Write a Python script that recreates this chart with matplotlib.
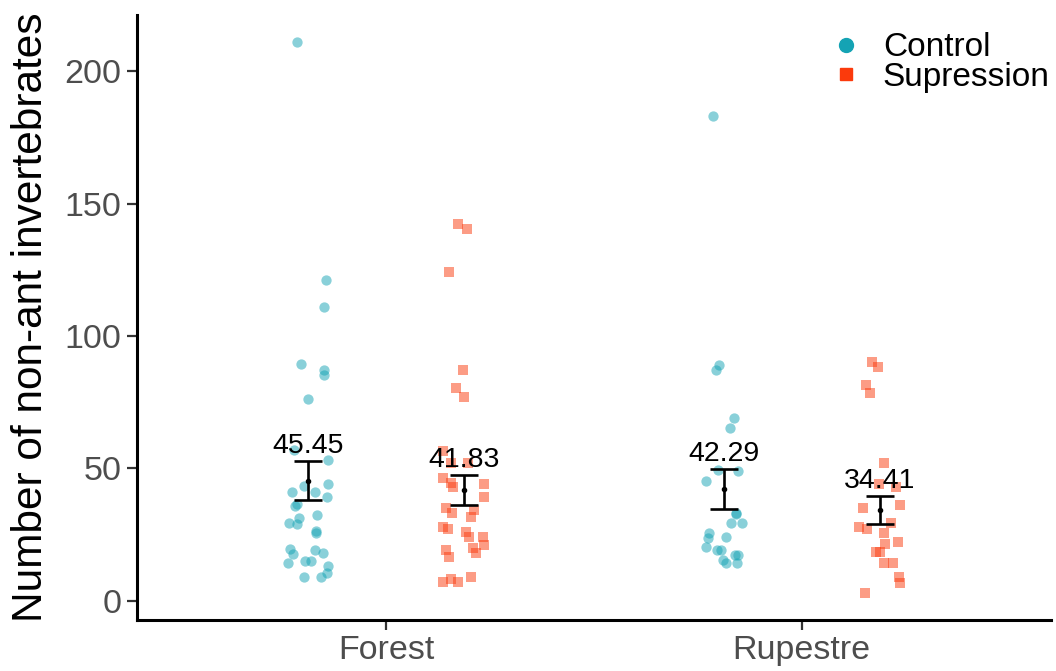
import matplotlib
matplotlib.use("Agg")
import matplotlib.pyplot as plt
from matplotlib.lines import Line2D

plt.rcParams['font.family'] = ['Liberation Sans', 'DejaVu Sans']

# habitats on the x axis, treatments dodged inside each
habitats = ["Forest", "Rupestre"]
treatments = ["Control", "Supression"]

# counts, with the jitter offset of each point (x units)
forest_control = [211.2, 121, 111, 89.3, 87.2, 85.3, 76.2, 57, 53.2, 44.2, 43.5, 41.2, 41.2,
                  39.4, 36.5, 36, 32.4, 31.3, 29.4, 29, 26.4, 25.6, 19.6, 17.7, 19.2, 18.2,
                  14.2, 15.2, 15.2, 13.2, 10.4, 9.2, 9.2]
forest_control_jit = [-0.028, 0.043, 0.037, -0.018, 0.037, 0.037, 0.0, -0.034, 0.047, 0.047,
                      -0.01, 0.016, -0.039, 0.044, -0.028, -0.031, 0.022, -0.023, -0.046,
                      -0.027, 0.019, 0.019, -0.043, -0.036, 0.016, 0.036, -0.05, -0.007,
                      0.006, 0.047, 0.044, 0.031, -0.01]

forest_supp = [142.3, 140.3, 124, 87.2, 80.3, 77.1, 56.6, 52, 52, 46.3, 44.4, 44.2, 43.1, 39.4,
               35, 33.1, 34.3, 31.8, 28, 27.3, 26.2, 24.3, 24.3, 21.1, 19.9, 18, 19.2, 16.7,
               7.3, 8.2, 7.3, 9.2]
forest_supp_jit = [-0.016, 0.006, -0.036, -0.002, -0.019, 0.0, -0.051, -0.032, 0.01, -0.052,
                   -0.032, 0.047, -0.028, 0.048, -0.043, -0.03, 0.024, 0.016, -0.052, -0.04,
                   0.004, 0.012, 0.046, 0.048, 0.022, 0.028, -0.043, -0.036, -0.051, -0.032,
                   -0.014, 0.016]

rup_control = [183.1, 89.1, 87.2, 69.2, 65.2, 49.4, 49.2, 45.3, 33.3, 33, 29.3, 29.3, 25.5,
               23.7, 24.3, 20.2, 19.2, 19.2, 17.4, 17.4, 15.5, 14.5, 14.5]
rup_control_jit = [-0.027, -0.011, -0.018, 0.024, 0.016, -0.014, 0.034, -0.043, 0.029, 0.029,
                   0.018, 0.043, -0.035, -0.038, 0.006, -0.042, -0.016, -0.006, 0.027, 0.034,
                   -0.002, 0.006, 0.032]

rup_supp = [90.3, 88.4, 81.5, 78.4, 52.2, 44.2, 43.1, 36.2, 35, 28, 27, 29.3, 25.5, 21.5, 22.4,
            18.3, 18.6, 14.5, 14.5, 9.2, 6.9, 3.1]
rup_supp_jit = [-0.018, -0.004, -0.034, -0.024, 0.01, -0.002, 0.039, 0.048, -0.04, -0.05,
                -0.031, 0.028, 0.01, 0.014, 0.044, -0.008, 0.0, 0.01, 0.032, 0.046, 0.05,
                -0.036]

# group means (as labelled) and standard errors
means = [45.45, 41.83, 42.29, 34.41]
ses = [7.5, 5.7, 7.7, 5.3]

colors = {"Control": "#14A3B4", "Supression": "#FB3A0C"}
markers = {"Control": "o", "Supression": "s"}
dodge = 0.1875

groups = [
    (0, "Control", forest_control, forest_control_jit),
    (0, "Supression", forest_supp, forest_supp_jit),
    (1, "Control", rup_control, rup_control_jit),
    (1, "Supression", rup_supp, rup_supp_jit),
]

fig = plt.figure(figsize=(10.56, 6.71), dpi=100)
ax = fig.add_axes([0.1297, 0.076, 0.8656, 0.9016])

for i, (h, t, vals, jit) in enumerate(groups):
    xc = h + 1 + (-dodge if t == "Control" else dodge)
    xs = [xc + j for j in jit]
    ax.scatter(xs, vals, s=55 if t == "Control" else 50, marker=markers[t],
               color=colors[t], alpha=0.5, linewidths=0, zorder=2)
    ax.errorbar([xc], [means[i]], yerr=[ses[i]], fmt="o", color="black", ms=3,
                elinewidth=1.9, capsize=10, capthick=1.9, zorder=3)
    ax.text(xc, means[i] + ses[i] + 0.6, "%.2f" % means[i], ha="center", va="bottom",
            fontsize=20.5, color="black", zorder=4)

ax.set_xlim(0.4, 2.6)
ax.set_ylim(-7.2, 221.2)
ax.set_xticks([1, 2])
ax.set_xticklabels(habitats)
ax.set_yticks([0, 50, 100, 150, 200])
ax.set_ylabel("Number of non-ant invertebrates", fontsize=30.5, labelpad=10)

for side in ["top", "right"]:
    ax.spines[side].set_visible(False)
for side in ["left", "bottom"]:
    ax.spines[side].set_linewidth(2.2)
ax.tick_params(axis="both", labelsize=24.5, length=7, width=1.6, color="#333333",
               labelcolor="#4D4D4D", pad=4)

handles = [Line2D([], [], linestyle="none", marker=markers[t], color=colors[t],
                  markersize=10 if t == "Control" else 9, label=t) for t in treatments]
ax.legend(handles=handles, loc="upper right", bbox_to_anchor=(1.024, 1.01), frameon=False,
          fontsize=24, handletextpad=0.5, labelspacing=-0.05, borderpad=0.2,
          handlelength=1.2)

fig.savefig("out.png", dpi=100)
